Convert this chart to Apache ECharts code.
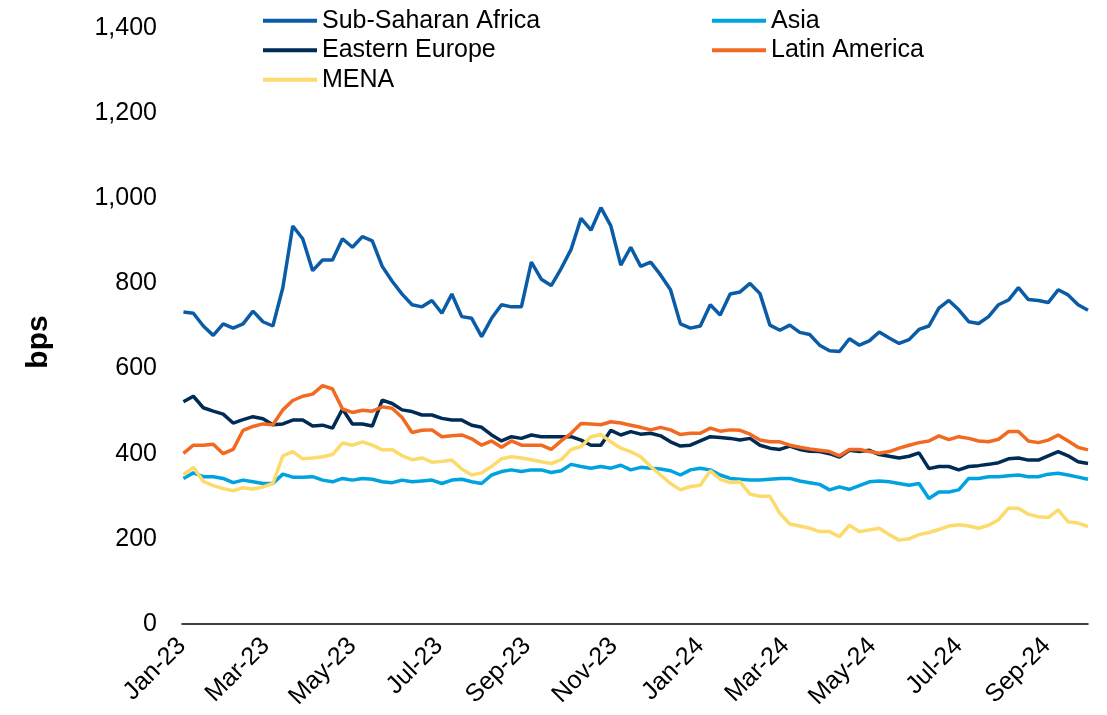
<!DOCTYPE html>
<html>
<head>
<meta charset="utf-8">
<script src="https://cdn.jsdelivr.net/npm/echarts@6/dist/echarts.min.js"></script>
<style>
  html, body { margin: 0; height: 100%; background: #fff; }
  #chart { width: 1107px; height: 715px; }
</style>
</head>
<body>
<div id="chart"></div>
<script>
  // weekly observations, first one Mon 2 Jan 2023, last Mon 30 Sep 2024
  const startDate = [2023, 0, 2];

  const ssa = [733, 730, 700, 678, 705, 695, 705, 735, 710, 700,
    790, 935, 905, 830, 855, 855, 905, 885, 910, 900,
    840, 805, 775, 750, 745, 760, 730, 775, 722, 718,
    675, 718, 750, 745, 745, 850, 810, 795, 835, 880,
    953, 925, 978, 935, 843, 885, 840, 850, 820, 785,
    705, 695, 700, 750, 726, 775, 780, 800, 776, 702,
    690, 702, 685, 680, 655, 642, 640, 670, 655, 665,
    686, 672, 659, 668, 692, 700, 742, 760, 738, 710,
    706, 722, 750, 761, 790, 762, 760, 755, 785, 773,
    750, 737];

  const asia = [342, 355, 346, 346, 342, 332, 338, 334, 330, 330,
    352, 345, 345, 346, 338, 334, 342, 338, 342, 340,
    334, 332, 338, 334, 336, 338, 330, 338, 340, 334,
    330, 350, 358, 362, 358, 362, 362, 356, 360, 375,
    370, 366, 370, 366, 373, 362, 368, 366, 364, 360,
    350, 362, 366, 362, 350, 342, 340, 338, 338, 340,
    342, 342, 336, 332, 328, 315, 322, 316, 325, 334,
    336, 334, 330, 326, 330, 295, 310, 310, 315, 342,
    342, 346, 346, 348, 350, 346, 346, 352, 354, 350,
    345, 340];

  const easternEurope = [522, 535, 508, 500, 493, 472, 480, 487, 482, 468,
    470, 479, 479, 465, 467, 460, 505, 470, 470, 465,
    526, 518, 503, 499, 491, 491, 483, 479, 479, 467,
    462, 444, 430, 440, 436, 444, 440, 440, 440, 440,
    432, 420, 420, 455, 444, 452, 446, 448, 442, 428,
    418, 420, 430, 440, 438, 436, 432, 436, 420, 413,
    410, 418, 410, 406, 405, 400, 392, 408, 405, 408,
    398, 394, 390, 394, 402, 365, 370, 370, 362, 370,
    372, 375, 379, 388, 390, 385, 385, 395, 405, 395,
    381, 377];

  const latinAmerica = [401, 420, 420, 422, 400, 410, 455, 464, 470, 468,
    503, 525, 535, 540, 560, 552, 505, 497, 502, 500,
    510, 507, 485, 450, 455, 456, 440, 442, 444, 435,
    420, 430, 415, 430, 420, 420, 420, 410, 430, 448,
    471, 470, 468, 475, 472, 467, 462, 456, 462, 456,
    445, 448, 448, 460, 453, 456, 455, 446, 432, 428,
    428, 420, 415, 411, 408, 405, 395, 410, 410, 405,
    401, 405, 413, 420, 426, 430, 442, 433, 440, 436,
    430, 428, 434, 452, 452, 430, 426, 432, 444, 430,
    415, 409];

  const mena = [350, 368, 335, 325, 318, 313, 320, 317, 322, 330,
    395, 405, 388, 390, 393, 398, 425, 420, 428, 420,
    409, 410, 395, 386, 390, 380, 382, 385, 364, 350,
    355, 370, 388, 393, 390, 386, 381, 377, 386, 410,
    417, 440, 445, 428, 413, 405, 393, 370, 350, 330,
    315, 323, 326, 360, 340, 332, 334, 305, 300, 300,
    260, 235, 230, 225, 217, 217, 205, 232, 217, 221,
    225, 210, 197, 200, 210, 215, 222, 230, 233, 230,
    225, 232, 245, 272, 272, 258, 252, 250, 268, 240,
    237, 229];

  const tickLabels = ['Jan-23', 'Mar-23', 'May-23', 'Jul-23', 'Sep-23', 'Nov-23',
    'Jan-24', 'Mar-24', 'May-24', 'Jul-24', 'Sep-24'];
  const yTicks = [0, 200, 400, 600, 800, 1000, 1200, 1400];

  // x runs in days since 1 Jan 2023
  const DAY = 86400000;
  const origin = Date.UTC(2023, 0, 1);
  const dayOf = (y, m, d) => Math.round((Date.UTC(y, m, d) - origin) / DAY);
  const days = ssa.map((v, i) => dayOf(startDate[0], startDate[1], startDate[2] + 7 * i));
  const tickDays = tickLabels.map((l, k) => dayOf(2023, 2 * k, 1));
  const lastDay = dayOf(2024, 8, 30);

  const pair = arr => arr.map((v, i) => [days[i], v]);

  const font = "'Liberation Sans', Arial, sans-serif";
  const chart = echarts.init(document.getElementById('chart'), null, { renderer: 'canvas' });

  const lineSeries = (name, color, values) => ({
    name: name,
    type: 'line',
    data: pair(values),
    showSymbol: false,
    symbol: 'none',
    lineStyle: { color: color, width: 3.5 },
    itemStyle: { color: color }
  });

  const legendBase = {
    orient: 'vertical',
    top: 1,
    icon: 'rect',
    itemWidth: 54,
    itemHeight: 4,
    itemGap: 0,
    textStyle: { fontFamily: font, fontSize: 25, color: '#000', lineHeight: 29.5 }
  };

  const option = {
    backgroundColor: '#fff',
    animation: false,
    legend: [
      Object.assign({ left: 258, data: ['Sub-Saharan Africa', 'Eastern Europe', 'MENA'] }, legendBase),
      Object.assign({ left: 707, data: ['Asia', 'Latin America'] }, legendBase)
    ],
    grid: { left: 182, right: 19, top: 28, bottom: 91 },
    xAxis: {
      type: 'value',
      min: 0,
      max: lastDay,
      axisLine: { lineStyle: { color: '#000', width: 1.5 } },
      axisTick: { show: false },
      splitLine: { show: false },
      axisLabel: {
        customValues: tickDays,
        rotate: 45,
        margin: 18,
        fontFamily: font,
        fontSize: 25,
        color: '#000',
        formatter: v => tickLabels[tickDays.indexOf(v)] || ''
      }
    },
    yAxis: {
      type: 'value',
      min: yTicks[0],
      max: yTicks[yTicks.length - 1],
      interval: 200,
      name: 'bps',
      nameLocation: 'middle',
      nameGap: 128,
      nameTextStyle: { fontFamily: font, fontSize: 30, fontWeight: 'bold', color: '#000', padding: [0, 32, 0, 0] },
      axisLine: { show: false },
      axisTick: { show: false },
      splitLine: { show: false },
      axisLabel: {
        margin: 25,
        fontFamily: font,
        fontSize: 25,
        color: '#000',
        formatter: v => v.toLocaleString('en-US')
      }
    },
    series: [
      lineSeries('Sub-Saharan Africa', '#0B5CA6', ssa),
      lineSeries('Asia', '#00A3E0', asia),
      lineSeries('Eastern Europe', '#002B55', easternEurope),
      lineSeries('Latin America', '#F26A21', latinAmerica),
      lineSeries('MENA', '#FDDA6C', mena)
    ]
  };

  chart.setOption(option);
  window.addEventListener('resize', chart.resize);
</script>
</body>
</html>
